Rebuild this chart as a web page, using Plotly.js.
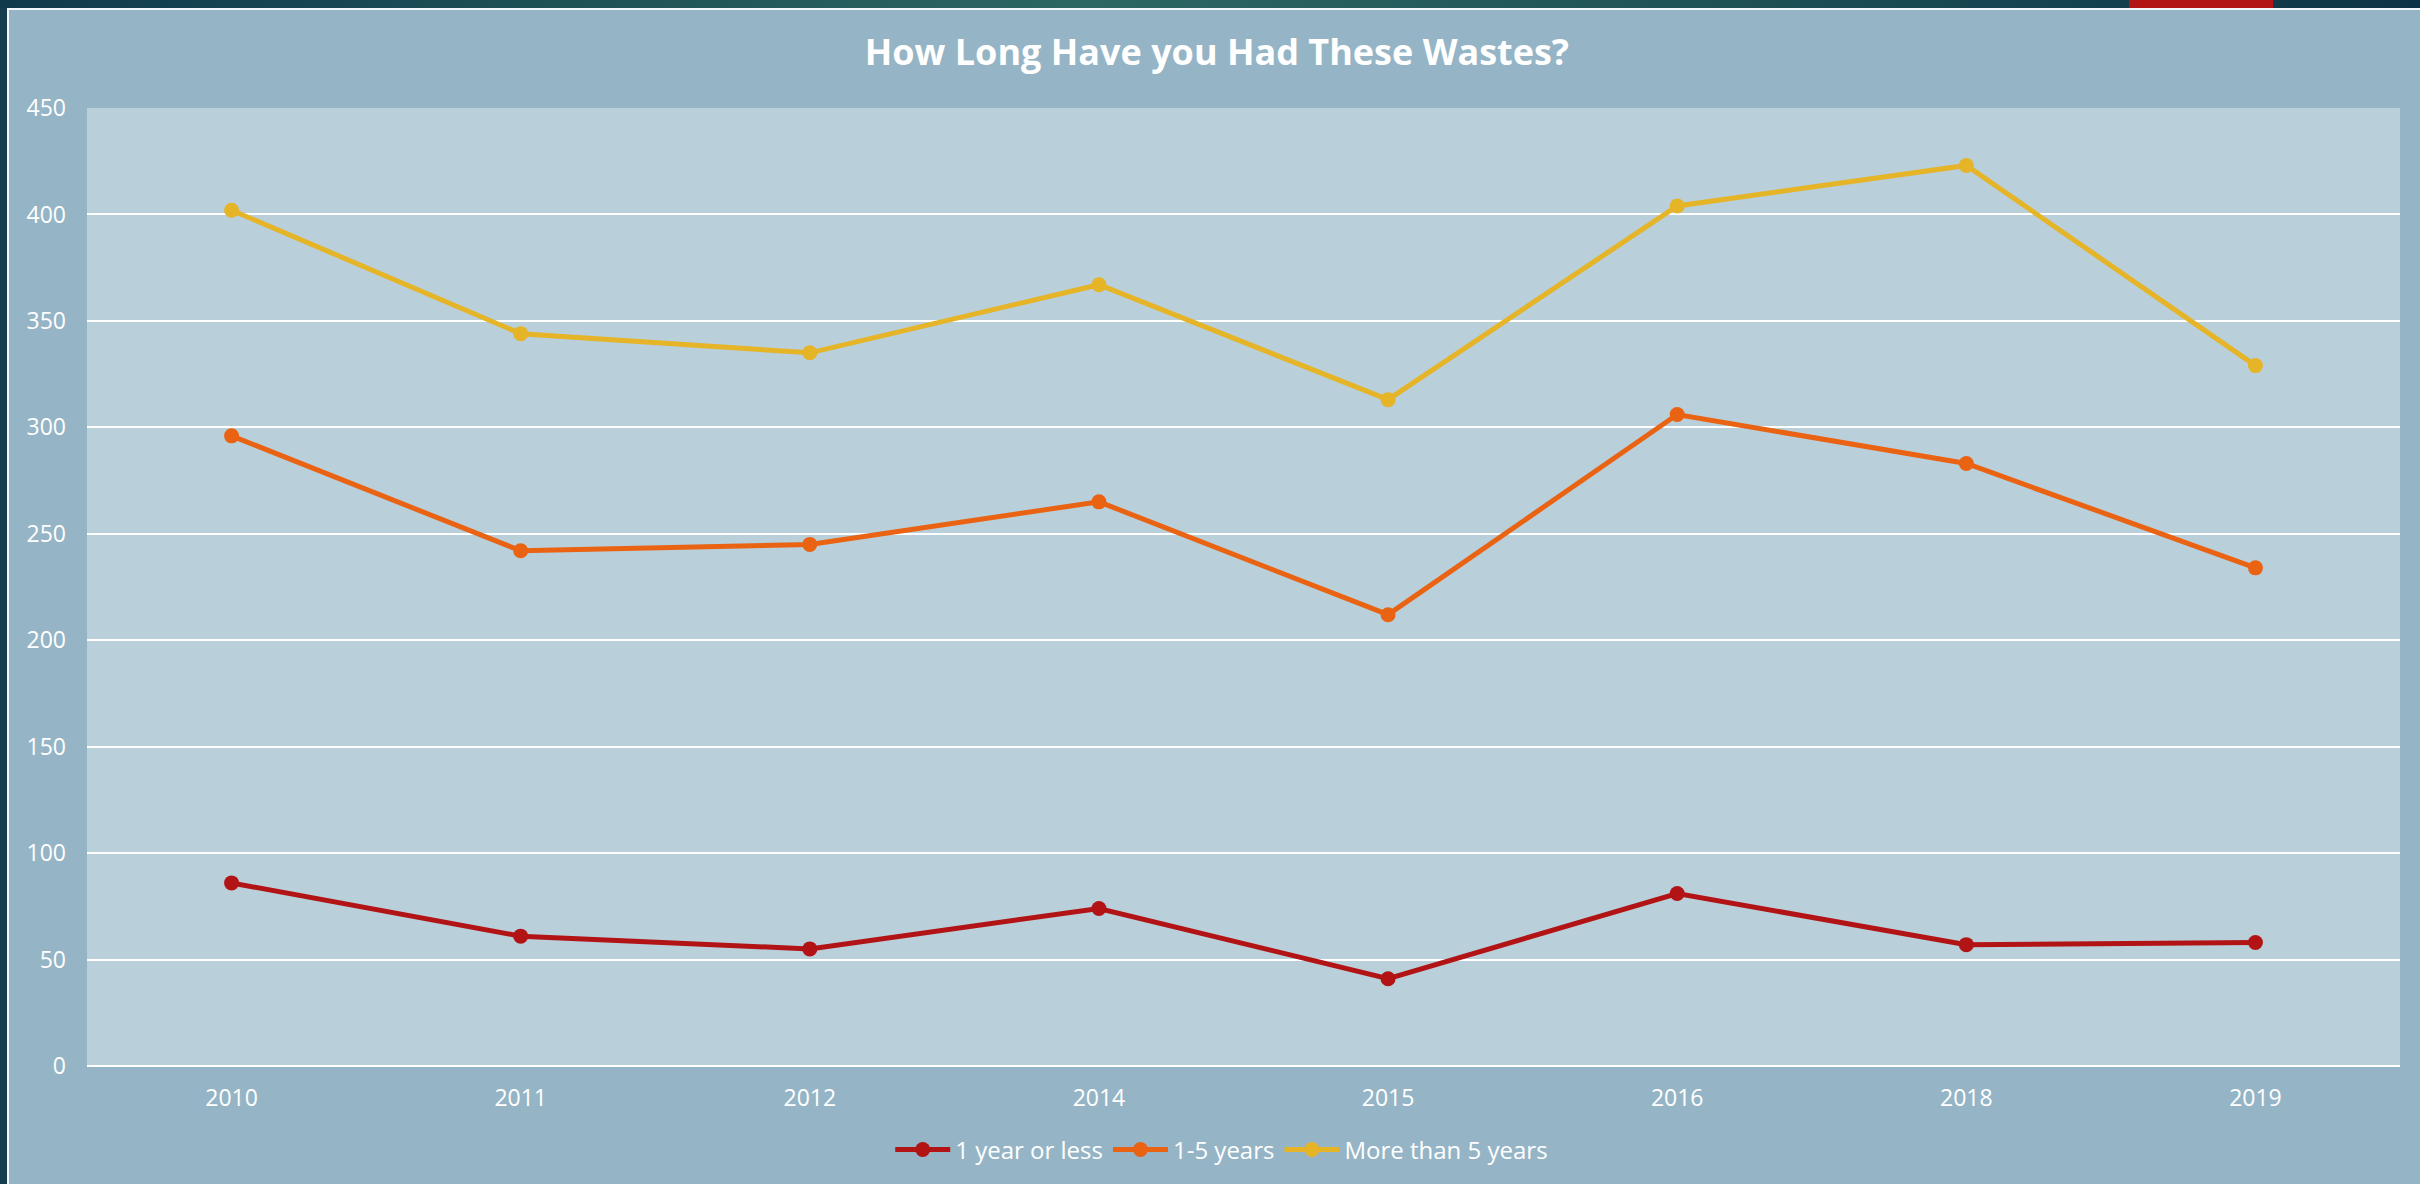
<!DOCTYPE html>
<html>
<head>
<meta charset="utf-8">
<script src="https://cdn.plot.ly/plotly-3.0.1.min.js"></script>
<style>
  html, body { margin: 0; padding: 0; }
  body { width: 2420px; height: 1184px; background: #143d4d; position: relative; overflow: hidden; }
  #topstrip { position: absolute; left: 0; top: 0; width: 2420px; height: 8px;
    background: linear-gradient(90deg, #103a4b 0%, #1f5257 25%, #2c6763 45%, #1f5257 70%, #0c3446 100%); }
  #redblock { position: absolute; left: 2129px; top: 0; width: 144px; height: 8px; background: #b21415; }
  #frame { position: absolute; left: 7px; top: 8px; width: 2413px; height: 1176px; background: #f2f6f8; }
  #chart { position: absolute; left: 9px; top: 10px; width: 2411px; height: 1174px; }
</style>
</head>
<body>
<div id="topstrip"></div>
<div id="redblock"></div>
<div id="frame"></div>
<div id="chart"></div>
<script>
const years = ["2010", "2011", "2012", "2014", "2015", "2016", "2018", "2019"];
const oneYearOrLess = [86, 61, 55, 74, 41, 81, 57, 58];
const oneToFiveYears = [296, 242, 245, 265, 212, 306, 283, 234];
const moreThanFiveYears = [402, 344, 335, 367, 313, 404, 423, 329];
const seriesNames = ["1 year or less", "1-5 years", "More than 5 years"];
const yTicks = [0, 50, 100, 150, 200, 250, 300, 350, 400, 450];

const colors = ["#b21416", "#e96312", "#e6b427"];
const seriesValues = [oneYearOrLess, oneToFiveYears, moreThanFiveYears];

const traces = seriesValues.map((vals, i) => ({
  x: years,
  y: vals,
  name: seriesNames[i],
  type: "scatter",
  mode: "lines+markers",
  line: { color: colors[i], width: 5 },
  marker: { color: colors[i], size: 15 },
  hoverinfo: "x+y+name"
}));

const font = { family: "Open Sans, DejaVu Sans, sans-serif", color: "#ffffff" };

const layout = {
  width: 2411,
  height: 1174,
  paper_bgcolor: "#95b5c6",
  plot_bgcolor: "#b9cfda",
  margin: { l: 78, r: 20, t: 98, b: 118 },
  font: font,
  title: {
    text: "<b>How Long Have you Had These Wastes?</b>",
    font: { family: font.family, color: "#ffffff", size: 36 },
    x: 0.501, xref: "container", xanchor: "center",
    y: 0.9638, yref: "container", yanchor: "middle"
  },
  xaxis: {
    type: "category",
    range: [-0.5, 7.5],
    showgrid: false,
    zeroline: false,
    showline: false,
    ticks: "",
    tickfont: { family: font.family, color: "#ffffff", size: 23 },
    ticklabelstandoff: 16
  },
  yaxis: {
    range: [0, 450],
    tickvals: yTicks,
    showgrid: true,
    gridcolor: "#ffffff",
    gridwidth: 2,
    zeroline: true,
    zerolinecolor: "#ffffff",
    zerolinewidth: 2,
    showline: false,
    ticks: "",
    tickfont: { family: font.family, color: "#ffffff", size: 23 },
    ticklabelstandoff: 20
  },
  showlegend: true,
  legend: {
    orientation: "h",
    x: 0.503, xref: "container", xanchor: "center",
    y: 0.029, yref: "container", yanchor: "middle",
    font: { family: font.family, color: "#ffffff", size: 24 },
    bgcolor: "rgba(0,0,0,0)",
    itemwidth: 55,
    tracegroupgap: 0
  }
};

Plotly.newPlot("chart", traces, layout, { displayModeBar: false, staticPlot: false });
</script>
</body>
</html>
